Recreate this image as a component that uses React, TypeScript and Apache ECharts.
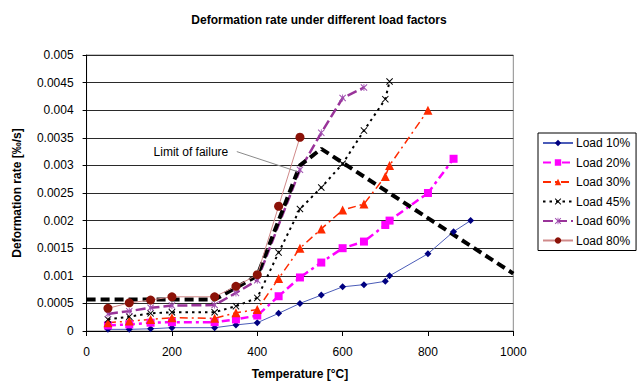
import React, { useEffect, useRef } from "react";
import * as echarts from "echarts";

// Temperatures [°C] and deformation rates [‰/s] per load factor
const temps10 = [50, 100, 150, 200, 300, 350, 400, 450, 500, 550, 600, 650, 700, 710, 800, 860, 900];
const load10 = [0.00003, 0.00003, 0.00004, 0.00006, 0.00006, 0.00011, 0.00015, 0.00032, 0.0005, 0.00065, 0.0008, 0.00084, 0.0009, 0.001, 0.0014, 0.0018, 0.002];

const temps20 = [50, 100, 150, 200, 300, 350, 400, 450, 500, 550, 600, 650, 700, 710, 800, 860];
const load20 = [0.0001, 0.00012, 0.00015, 0.00016, 0.00016, 0.00021, 0.00028, 0.00063, 0.00097, 0.00124, 0.0015, 0.00162, 0.00192, 0.002, 0.0025, 0.00312];

const temps30 = [50, 100, 150, 200, 300, 350, 400, 450, 500, 550, 600, 650, 700, 710, 800];
const load30 = [0.00015, 0.00018, 0.00021, 0.00024, 0.00023, 0.00033, 0.00039, 0.00095, 0.0015, 0.00185, 0.00219, 0.0023, 0.0028, 0.003, 0.004];

const temps45 = [50, 100, 150, 200, 300, 350, 400, 450, 500, 550, 600, 650, 700, 710];
const load45 = [0.00021, 0.00026, 0.00032, 0.00034, 0.00034, 0.00045, 0.0006, 0.00142, 0.00221, 0.0026, 0.00303, 0.00363, 0.0042, 0.00452];

const temps60 = [50, 100, 150, 200, 300, 350, 400, 500, 550, 600, 650];
const load60 = [0.00031, 0.00036, 0.00042, 0.00046, 0.00047, 0.00069, 0.00092, 0.00292, 0.00359, 0.00422, 0.00441];

const temps80 = [50, 100, 150, 200, 300, 350, 400, 450, 500];
const load80 = [0.00041, 0.00051, 0.00056, 0.00062, 0.00062, 0.00081, 0.00102, 0.00226, 0.00351];

// Failure limit envelope
const limitTemps = [0, 300, 400, 500, 550, 1000];
const limitRates = [0.00057, 0.00057, 0.001, 0.003, 0.0033, 0.00104];

// Leader line for the "Limit of failure" annotation
const leaderTemps = [352, 493];
const leaderRates = [0.00325, 0.00289];
const annotationText = "Limit of failure";

const xTicks = { min: 0, max: 1000, step: 200 };
const yTicks = { min: 0, max: 0.005, step: 0.0005 };

const FONT = "Arial, 'Liberation Sans', sans-serif";

const pair = (xs: number[], ys: number[]) => xs.map((x, i) => [x, ys[i]]);

const X_MARK = "path://M0,1L1,0L5,4L9,0L10,1L6,5L10,9L9,10L5,6L1,10L0,9L4,5Z";
const STAR_MARK =
  "path://M0,1L1,0L5,4L9,0L10,1L6,5L10,9L9,10L5,6L1,10L0,9L4,5Z M4.4,0H5.6V10H4.4Z";

export default function App() {
  const ref = useRef<HTMLDivElement>(null);

  useEffect(() => {
    if (!ref.current) return;
    const chart = echarts.init(ref.current, null, { renderer: "svg" });

    const loadSeries = (
      name: string,
      xs: number[],
      ys: number[],
      color: string,
      lineColor: string,
      width: number,
      type: any,
      symbol: string,
      size: number
    ) => ({
      name,
      type: "line",
      data: pair(xs, ys),
      symbol,
      symbolSize: size,
      showSymbol: true,
      itemStyle: { color, borderWidth: 0 },
      lineStyle: { color: lineColor, width, type },
      emphasis: { disabled: true },
    });

    chart.setOption({
      animation: false,
      backgroundColor: "#ffffff",
      textStyle: { fontFamily: FONT },
      title: {
        text: "Deformation rate under different load factors",
        left: 314,
        textAlign: "center",
        top: 9,
        textStyle: { fontFamily: FONT, fontSize: 12, fontWeight: "bold", color: "#000" },
      },
      grid: {
        left: 86.6,
        top: 55,
        width: 426.7,
        height: 276.7,
        show: true,
        borderColor: "#8a8a8a",
        borderWidth: 1,
        backgroundColor: "transparent",
      },
      legend: {
        orient: "vertical",
        left: 538,
        top: 133,
        data: ["Load 10%", "Load 20%", "Load 30%", "Load 45%", "Load 60%", "Load 80%"],
        itemWidth: 30,
        itemHeight: 8,
        itemGap: 7.5,
        padding: [4, 6, 4, 4],
        borderColor: "#000",
        borderWidth: 1,
        backgroundColor: "#fff",
        selectedMode: false,
        textStyle: { fontFamily: FONT, fontSize: 12, color: "#000", padding: [0, 0, 0, -2] },
      },
      xAxis: {
        type: "value",
        min: xTicks.min,
        max: xTicks.max,
        interval: xTicks.step,
        name: "Temperature [°C]",
        nameLocation: "middle",
        nameGap: 37,
        nameTextStyle: { fontFamily: FONT, fontSize: 12, fontWeight: "bold", color: "#000" },
        axisLine: { show: true, lineStyle: { color: "#000", width: 1 } },
        axisTick: { show: true, inside: false, length: 5, lineStyle: { color: "#000" } },
        axisLabel: {
          fontFamily: FONT,
          fontSize: 12,
          color: "#000",
          margin: 15,
          formatter: (v: number) => String(v),
        },
        splitLine: { show: false },
      },
      yAxis: {
        type: "value",
        min: yTicks.min,
        max: yTicks.max,
        interval: yTicks.step,
        name: "Deformation rate [‰/s]",
        nameLocation: "middle",
        nameGap: 64,
        nameTextStyle: { fontFamily: FONT, fontSize: 12, fontWeight: "bold", color: "#000" },
        axisLine: { show: true, lineStyle: { color: "#000", width: 1 } },
        axisTick: { show: true, inside: false, length: 4, lineStyle: { color: "#000" } },
        axisLabel: {
          fontFamily: FONT,
          fontSize: 12,
          color: "#000",
          margin: 13,
          formatter: (v: number) => String(parseFloat(v.toFixed(4))),
        },
        splitLine: { show: true, lineStyle: { color: "#2a2a2a", width: 1 } },
      },
      series: [
        loadSeries("Load 10%", temps10, load10, "#000080", "#4b5cb8", 1, "solid", "diamond", 7),
        loadSeries("Load 20%", temps20, load20, "#ff00ff", "#ff00ff", 2.5, [8, 4, 3, 4], "rect", 8),
        loadSeries("Load 30%", temps30, load30, "#ff2a00", "#ff2a00", 1.5, [8, 4, 2, 4], "triangle", 9),
        loadSeries("Load 45%", temps45, load45, "#000000", "#000000", 2, [2.5, 4], X_MARK, 7),
        loadSeries("Load 60%", temps60, load60, "#a050b0", "#993399", 2.5, [10, 4], STAR_MARK, 7),
        {
          name: "Limit",
          type: "line",
          data: pair(limitTemps, limitRates),
          symbol: "none",
          lineStyle: { color: "#000", width: 4, type: [9, 5] },
          emphasis: { disabled: true },
        },
        loadSeries("Load 80%", temps80, load80, "#8b1208", "#d08a8a", 1, "solid", "circle", 9),
        {
          name: "Leader",
          type: "line",
          data: pair(leaderTemps, leaderRates),
          symbol: "none",
          lineStyle: { color: "#8a8a8a", width: 1 },
          emphasis: { disabled: true },
          markPoint: {
            symbol: "circle",
            symbolSize: 1,
            itemStyle: { color: "rgba(0,0,0,0)" },
            silent: true,
            data: [
              {
                coord: [leaderTemps[0], leaderRates[0]],
                label: {
                  show: true,
                  position: "left",
                  distance: 8,
                  formatter: annotationText,
                  fontFamily: FONT,
                  fontSize: 12,
                  color: "#000",
                },
              },
            ],
          },
        },
      ],
    });

    return () => chart.dispose();
  }, []);

  return (
    <div
      ref={ref}
      style={{ position: "fixed", left: 0, top: 0, width: 642, height: 385 }}
    />
  );
}
